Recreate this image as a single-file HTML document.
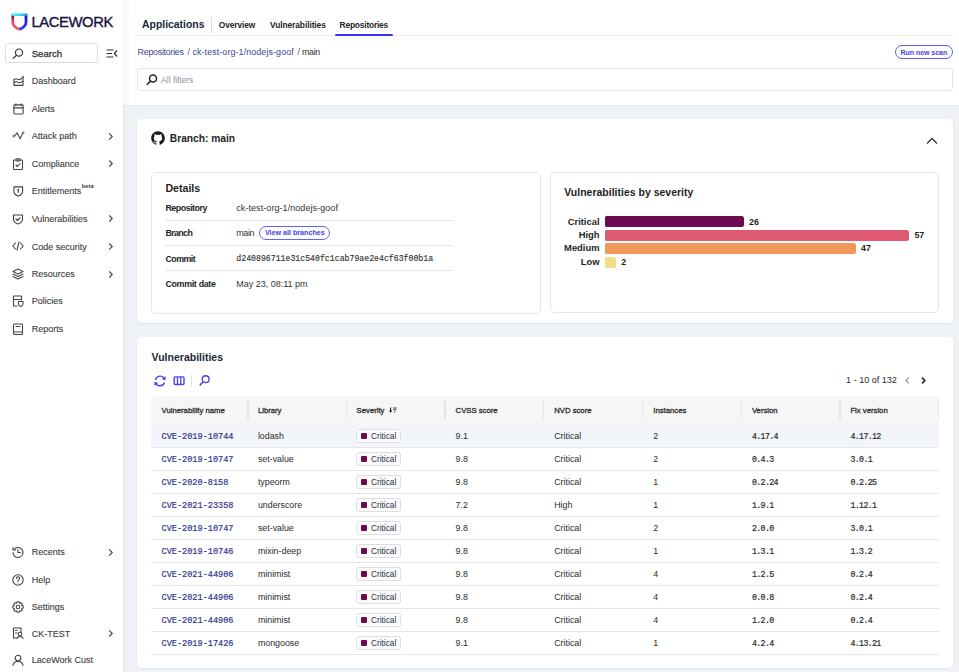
<!DOCTYPE html>
<html><head><meta charset="utf-8"><title>Lacework - Repositories</title>
<style>
html,body{margin:0;padding:0;width:959px;height:672px;overflow:hidden;background:#eef1f5;font-family:"Liberation Sans",sans-serif;}
.a{position:absolute;}
.t{position:absolute;white-space:nowrap;line-height:20px;}
svg{overflow:visible;}
</style></head><body>
<div class="a" style="left:0px;top:0px;width:959px;height:672px;background:#eef1f6;"></div>
<div class="a" style="left:0px;top:0px;width:959px;height:105px;background:#fff;"></div>
<div class="a" style="left:0px;top:0px;width:123px;height:672px;background:#fff;"></div>
<div class="a" style="left:123px;top:0px;width:8px;height:105px;background:linear-gradient(90deg,#f6f7f8,#fff);"></div>
<div class="a" style="left:122.5px;top:105px;width:1.0px;height:567px;background:#e6e9ee;"></div>
<div class="a" style="left:123.5px;top:105px;width:4.5px;height:567px;background:linear-gradient(90deg,rgba(0,0,0,0.025),rgba(0,0,0,0));"></div>
<div class="a" style="left:123px;top:105px;width:836px;height:2px;background:linear-gradient(180deg,rgba(0,0,0,0.035),rgba(0,0,0,0));"></div>
<svg class="a" style="left:10.5px;top:12.5px;" width="17.0" height="18.0" viewBox="0 0 17.0 18.0">
<defs>
<linearGradient id="gt" gradientUnits="userSpaceOnUse" x1="0" y1="0" x2="17" y2="0"><stop offset="0" stop-color="#3ff3ef"/><stop offset="0.6" stop-color="#37d6f4"/><stop offset="1" stop-color="#2f6cf2"/></linearGradient>
<linearGradient id="gl" gradientUnits="userSpaceOnUse" x1="0" y1="2" x2="0" y2="17"><stop offset="0" stop-color="#5a1838"/><stop offset="0.45" stop-color="#e84a66"/><stop offset="1" stop-color="#f5586a"/></linearGradient>
<linearGradient id="gr" gradientUnits="userSpaceOnUse" x1="0" y1="2" x2="0" y2="17"><stop offset="0" stop-color="#17148a"/><stop offset="0.5" stop-color="#2b2be6"/><stop offset="1" stop-color="#3535ff"/></linearGradient>
</defs>
<path d="M1.8 2 L1.8 9.5 Q1.9 13.6 8.4 16.4" fill="none" stroke="url(#gl)" stroke-width="2.8"/>
<path d="M15 2 L15 9.5 Q14.9 13.6 8.4 16.4" fill="none" stroke="url(#gr)" stroke-width="2.8"/>
<path d="M0.4 0.5 H16.4 V2.6 L15 3 H1.8 L0.4 2.6 Z" fill="url(#gt)"/>
</svg>
<div class="t" style="left:31.40px;top:12px;font-size:14.8px;color:#15113d;font-family:'Liberation Sans', sans-serif;letter-spacing:-0.399px;-webkit-text-stroke:0.35px #15113d;">LACEWORK</div>
<div class="a" style="left:5px;top:43px;width:93px;height:19.5px;border:1px solid #dcdde0;border-radius:2.5px;box-sizing:border-box;background:#fff;"></div>
<svg class="a" style="left:12px;top:48px;" width="12" height="11" viewBox="0 0 12 11"><circle cx="7" cy="4.6" r="3.6" fill="none" stroke="#3a3a3a" stroke-width="1.2"/><path d="M4.4 7.3 L1.2 10.4" stroke="#3a3a3a" stroke-width="1.3" stroke-linecap="round"/></svg>
<div class="t" style="left:31.70px;top:44px;font-size:9.6px;color:#2f2f2f;font-family:'Liberation Sans', sans-serif;-webkit-text-stroke:0.25px #2f2f2f;">Search</div>
<svg class="a" style="left:106px;top:49px;" width="12" height="9" viewBox="0 0 12 9"><path d="M0.5 1 H7.5 M0.5 4.5 H6 M0.5 8 H7.5" stroke="#333" stroke-width="1.2"/><path d="M11 1.5 L8.3 4.5 L11 7.5" fill="none" stroke="#333" stroke-width="1.2"/></svg>
<svg class="a" style="left:11.5px;top:75.0px;" width="12.0" height="12.0" viewBox="0 0 12.0 12.0"><path d="M2 4.6 V10.4 H11 V1.2" fill="none" stroke="#444" stroke-width="1.1" stroke-linecap="round" stroke-linejoin="round"/><path d="M2 4.6 Q3.8 3.2 5.8 4.3 Q8 5.4 11 2.2 M2 7.6 Q4 6.2 6 7.2 Q8.2 8.2 11 6.4" fill="none" stroke="#444" stroke-width="1.1" stroke-linecap="round" stroke-linejoin="round"/></svg>
<div class="t" style="left:31.70px;top:71px;font-size:9.0px;color:#404040;font-family:'Liberation Sans', sans-serif;-webkit-text-stroke:0.12px #404040;">Dashboard</div>
<svg class="a" style="left:11.5px;top:102.5px;" width="12.0" height="12.0" viewBox="0 0 12.0 12.0"><rect x="1.9" y="1.9" width="9.2" height="9.1" rx="0.9" fill="none" stroke="#444" stroke-width="1.1" stroke-linecap="round" stroke-linejoin="round"/><path d="M1.9 4.9 H11.1 M3.9 0.9 V2.4 M9.1 0.9 V2.4" fill="none" stroke="#444" stroke-width="1.1" stroke-linecap="round" stroke-linejoin="round"/></svg>
<div class="t" style="left:31.70px;top:99px;font-size:9.0px;color:#404040;font-family:'Liberation Sans', sans-serif;-webkit-text-stroke:0.12px #404040;">Alerts</div>
<svg class="a" style="left:11.5px;top:130.0px;" width="12.0" height="12.0" viewBox="0 0 12.0 12.0"><path d="M2.7 5.6 L5.1 2.9 L8.2 8.8 L10.5 3.4" fill="none" stroke="#444" stroke-width="1.1" stroke-linecap="round" stroke-linejoin="round"/><circle cx="1.8" cy="6.2" r="0.95" fill="#fff" stroke="#444" stroke-width="0.9"/><circle cx="11.2" cy="2.7" r="0.85" fill="#fff" stroke="#444" stroke-width="0.9"/></svg>
<div class="t" style="left:31.70px;top:126px;font-size:9.0px;color:#404040;font-family:'Liberation Sans', sans-serif;-webkit-text-stroke:0.12px #404040;">Attack path</div>
<svg class="a" style="left:107.5px;top:131.5px;" width="6.0" height="9.0" viewBox="0 0 6.0 9.0"><path d="M1.2 1.4 L4.2 4.5 L1.2 7.6" fill="none" stroke="#444" stroke-width="1.15"/></svg>
<svg class="a" style="left:11.5px;top:157.6px;" width="12.0" height="12.0" viewBox="0 0 12.0 12.0"><rect x="1.5" y="2" width="9" height="9.5" rx="0.8" fill="none" stroke="#444" stroke-width="1.1" stroke-linecap="round" stroke-linejoin="round"/><rect x="4" y="0.8" width="4" height="2.2" rx="0.5" fill="none" stroke="#444" stroke-width="1.1" stroke-linecap="round" stroke-linejoin="round"/><path d="M4 7 L5.5 8.5 L8 5.5" fill="none" stroke="#444" stroke-width="1.1" stroke-linecap="round" stroke-linejoin="round"/></svg>
<div class="t" style="left:31.70px;top:154px;font-size:9.0px;color:#404040;font-family:'Liberation Sans', sans-serif;-webkit-text-stroke:0.12px #404040;">Compliance</div>
<svg class="a" style="left:107.5px;top:159.1px;" width="6.0" height="9.0" viewBox="0 0 6.0 9.0"><path d="M1.2 1.4 L4.2 4.5 L1.2 7.6" fill="none" stroke="#444" stroke-width="1.15"/></svg>
<svg class="a" style="left:11.5px;top:185.1px;" width="12.0" height="12.0" viewBox="0 0 12.0 12.0"><path d="M1.9 1.9 H10.6 V6.2 Q10.6 9.4 6.25 11.1 Q1.9 9.4 1.9 6.2 Z" fill="none" stroke="#444" stroke-width="1.1" stroke-linecap="round" stroke-linejoin="round"/><circle cx="6.25" cy="4.7" r="0.9" fill="#444"/><path d="M6.25 5 V7.8" stroke="#444" stroke-width="1.1"/></svg>
<div class="t" style="left:31.70px;top:181px;font-size:9.0px;color:#404040;font-family:'Liberation Sans', sans-serif;-webkit-text-stroke:0.12px #404040;">Entitlements</div>
<svg class="a" style="left:11.5px;top:212.6px;" width="12.0" height="12.0" viewBox="0 0 12.0 12.0"><path d="M1.5 2 H10.5 V6 Q10.5 9.5 6 11 Q1.5 9.5 1.5 6 Z" fill="none" stroke="#444" stroke-width="1.1" stroke-linecap="round" stroke-linejoin="round"/><path d="M4 6 L5.5 7.5 L8 5" fill="none" stroke="#444" stroke-width="1.1" stroke-linecap="round" stroke-linejoin="round"/></svg>
<div class="t" style="left:31.70px;top:209px;font-size:9.0px;color:#404040;font-family:'Liberation Sans', sans-serif;-webkit-text-stroke:0.12px #404040;">Vulnerabilities</div>
<svg class="a" style="left:107.5px;top:214.1px;" width="6.0" height="9.0" viewBox="0 0 6.0 9.0"><path d="M1.2 1.4 L4.2 4.5 L1.2 7.6" fill="none" stroke="#444" stroke-width="1.15"/></svg>
<svg class="a" style="left:11.5px;top:240.4px;" width="12.0" height="12.0" viewBox="0 0 12.0 12.0"><path d="M3.5 3 L0.8 6 L3.5 9 M8.5 3 L11.2 6 L8.5 9 M7 2 L5 10" fill="none" stroke="#444" stroke-width="1.1" stroke-linecap="round" stroke-linejoin="round"/></svg>
<div class="t" style="left:31.70px;top:237px;font-size:9.0px;color:#404040;font-family:'Liberation Sans', sans-serif;-webkit-text-stroke:0.12px #404040;">Code security</div>
<svg class="a" style="left:107.5px;top:241.9px;" width="6.0" height="9.0" viewBox="0 0 6.0 9.0"><path d="M1.2 1.4 L4.2 4.5 L1.2 7.6" fill="none" stroke="#444" stroke-width="1.15"/></svg>
<svg class="a" style="left:11.5px;top:268.0px;" width="12.0" height="12.0" viewBox="0 0 12.0 12.0"><path d="M6 1 L11 3.5 L6 6 L1 3.5 Z M1 6 L6 8.5 L11 6 M1 8.5 L6 11 L11 8.5" fill="none" stroke="#444" stroke-width="1.1" stroke-linecap="round" stroke-linejoin="round"/></svg>
<div class="t" style="left:31.70px;top:264px;font-size:9.0px;color:#404040;font-family:'Liberation Sans', sans-serif;-webkit-text-stroke:0.12px #404040;">Resources</div>
<svg class="a" style="left:107.5px;top:269.5px;" width="6.0" height="9.0" viewBox="0 0 6.0 9.0"><path d="M1.2 1.4 L4.2 4.5 L1.2 7.6" fill="none" stroke="#444" stroke-width="1.15"/></svg>
<svg class="a" style="left:11.5px;top:295.2px;" width="12.0" height="12.0" viewBox="0 0 12.0 12.0"><path d="M9.5 5 V1 H1.5 V11 H5 M1.5 4.5 H9.5" fill="none" stroke="#444" stroke-width="1.1" stroke-linecap="round" stroke-linejoin="round"/><path d="M6.5 6.5 H11 V9 Q11 10.8 8.7 11.5 Q6.5 10.8 6.5 9 Z" fill="none" stroke="#444" stroke-width="1.1" stroke-linecap="round" stroke-linejoin="round"/></svg>
<div class="t" style="left:31.70px;top:291px;font-size:9.0px;color:#404040;font-family:'Liberation Sans', sans-serif;-webkit-text-stroke:0.12px #404040;">Policies</div>
<svg class="a" style="left:11.5px;top:323.0px;" width="12.0" height="12.0" viewBox="0 0 12.0 12.0"><rect x="1.5" y="1" width="9" height="10.5" rx="1" fill="none" stroke="#444" stroke-width="1.1" stroke-linecap="round" stroke-linejoin="round"/><path d="M1.5 9 H10.5 M4 3.5 H8" fill="none" stroke="#444" stroke-width="1.1" stroke-linecap="round" stroke-linejoin="round"/></svg>
<div class="t" style="left:31.70px;top:319px;font-size:9.0px;color:#404040;font-family:'Liberation Sans', sans-serif;-webkit-text-stroke:0.12px #404040;">Reports</div>
<svg class="a" style="left:11.5px;top:546.2px;" width="12.0" height="12.0" viewBox="0 0 12.0 12.0"><path d="M2 3.5 A5 5 0 1 1 1 6.5" fill="none" stroke="#444" stroke-width="1.1" stroke-linecap="round" stroke-linejoin="round"/><path d="M1 1.5 V4 H3.5 M6 3.5 V6.5 H8.5" fill="none" stroke="#444" stroke-width="1.1" stroke-linecap="round" stroke-linejoin="round"/></svg>
<div class="t" style="left:31.70px;top:542px;font-size:9.0px;color:#404040;font-family:'Liberation Sans', sans-serif;-webkit-text-stroke:0.12px #404040;">Recents</div>
<svg class="a" style="left:107.5px;top:547.7px;" width="6.0" height="9.0" viewBox="0 0 6.0 9.0"><path d="M1.2 1.4 L4.2 4.5 L1.2 7.6" fill="none" stroke="#444" stroke-width="1.15"/></svg>
<svg class="a" style="left:11.5px;top:573.9px;" width="12.0" height="12.0" viewBox="0 0 12.0 12.0"><circle cx="6" cy="6" r="5.2" fill="none" stroke="#444" stroke-width="1.1" stroke-linecap="round" stroke-linejoin="round"/><path d="M4.3 4.6 Q4.5 2.8 6 2.8 Q7.8 2.9 7.7 4.5 Q7.6 5.6 6 6.3 V7.3" fill="none" stroke="#444" stroke-width="1.1" stroke-linecap="round" stroke-linejoin="round"/><circle cx="6" cy="9" r="0.6" fill="#444"/></svg>
<div class="t" style="left:31.70px;top:570px;font-size:9.0px;color:#404040;font-family:'Liberation Sans', sans-serif;-webkit-text-stroke:0.12px #404040;">Help</div>
<svg class="a" style="left:11.5px;top:601.2px;" width="12.0" height="12.0" viewBox="0 0 12.0 12.0"><circle cx="6" cy="6" r="1.8" fill="none" stroke="#444" stroke-width="1.1" stroke-linecap="round" stroke-linejoin="round"/><path d="M5 0.8 H7 L7.4 2.3 L8.7 1.6 L10.2 3 L9.6 4.4 L11.2 5 V7 L9.7 7.5 L10.3 8.9 L8.9 10.3 L7.5 9.7 L7 11.2 H5 L4.5 9.7 L3.1 10.3 L1.7 8.9 L2.3 7.5 L0.8 7 V5 L2.3 4.5 L1.7 3.1 L3.1 1.7 L4.5 2.3 Z" fill="none" stroke="#444" stroke-width="1.1" stroke-linecap="round" stroke-linejoin="round"/></svg>
<div class="t" style="left:31.70px;top:597px;font-size:9.0px;color:#404040;font-family:'Liberation Sans', sans-serif;-webkit-text-stroke:0.12px #404040;">Settings</div>
<svg class="a" style="left:11.5px;top:627.3px;" width="12.0" height="12.0" viewBox="0 0 12.0 12.0"><path d="M9 4.5 V1 H1.5 V11 H4.5 M3.5 3.5 H5 M3.5 6 H5" fill="none" stroke="#444" stroke-width="1.1" stroke-linecap="round" stroke-linejoin="round"/><circle cx="8" cy="7" r="1.8" fill="none" stroke="#444" stroke-width="1.1" stroke-linecap="round" stroke-linejoin="round"/><path d="M5 11.5 Q5.5 9.5 8 9.5 Q10.5 9.5 11 11.5" fill="none" stroke="#444" stroke-width="1.1" stroke-linecap="round" stroke-linejoin="round"/></svg>
<div class="t" style="left:31.70px;top:624px;font-size:9.0px;color:#404040;font-family:'Liberation Sans', sans-serif;-webkit-text-stroke:0.12px #404040;">CK-TEST</div>
<svg class="a" style="left:107.5px;top:628.8px;" width="6.0" height="9.0" viewBox="0 0 6.0 9.0"><path d="M1.2 1.4 L4.2 4.5 L1.2 7.6" fill="none" stroke="#444" stroke-width="1.15"/></svg>
<svg class="a" style="left:11.5px;top:653.9px;" width="12.0" height="12.0" viewBox="0 0 12.0 12.0"><circle cx="6" cy="4" r="2.8" fill="none" stroke="#444" stroke-width="1.1" stroke-linecap="round" stroke-linejoin="round"/><path d="M1 11.5 Q1.5 7.5 6 7.5 Q10.5 7.5 11 11.5" fill="none" stroke="#444" stroke-width="1.1" stroke-linecap="round" stroke-linejoin="round"/></svg>
<div class="t" style="left:31.70px;top:650px;font-size:9.0px;color:#404040;font-family:'Liberation Sans', sans-serif;-webkit-text-stroke:0.12px #404040;">LaceWork Cust</div>
<div class="t" style="left:81.80px;top:176px;font-size:5.8px;color:#3c3c3c;font-family:'Liberation Sans', sans-serif;font-weight:bold;">beta</div>
<div class="t" style="left:142.10px;top:15px;font-size:10.4px;color:#1b2937;font-family:'Liberation Sans', sans-serif;font-weight:bold;">Applications</div>
<div class="a" style="left:211px;top:17px;width:1px;height:15.5px;background:#dcdcdc;"></div>
<div class="t" style="left:218.80px;top:15px;font-size:8.4px;color:#262626;font-family:'Liberation Sans', sans-serif;font-weight:bold;letter-spacing:-0.111px;">Overview</div>
<div class="t" style="left:270.00px;top:15px;font-size:8.4px;color:#262626;font-family:'Liberation Sans', sans-serif;font-weight:bold;letter-spacing:-0.079px;">Vulnerabilities</div>
<div class="t" style="left:339.60px;top:15px;font-size:8.4px;color:#262626;font-family:'Liberation Sans', sans-serif;font-weight:bold;letter-spacing:-0.189px;">Repositories</div>
<div class="a" style="left:137px;top:35px;width:816px;height:1px;background:#eceef0;"></div>
<div class="a" style="left:335px;top:34px;width:58.39999999999998px;height:2px;background:#3636f2;border-radius:1px;"></div>
<div class="t" style="left:137.60px;top:42px;font-size:8.9px;color:#3e3f96;font-family:'Liberation Sans', sans-serif;letter-spacing:-0.269px;">Repositories</div>
<div class="t" style="left:187.60px;top:42px;font-size:8.9px;color:#555;font-family:'Liberation Sans', sans-serif;">/</div>
<div class="t" style="left:192.40px;top:42px;font-size:8.9px;color:#3e3f96;font-family:'Liberation Sans', sans-serif;letter-spacing:0.111px;">ck-test-org-1/nodejs-goof</div>
<div class="t" style="left:297.50px;top:42px;font-size:8.9px;color:#555;font-family:'Liberation Sans', sans-serif;">/</div>
<div class="t" style="left:301.90px;top:42px;font-size:8.9px;color:#333;font-family:'Liberation Sans', sans-serif;letter-spacing:-0.297px;">main</div>
<div class="a" style="left:895px;top:45px;width:58px;height:14px;border:1px solid #5b5cf2;border-radius:8px;box-sizing:border-box;"></div>
<div class="t" style="left:900.50px;top:43px;font-size:7.0px;color:#3f3fe6;font-family:'Liberation Sans', sans-serif;font-weight:bold;letter-spacing:-0.034px;">Run new scan</div>
<div class="a" style="left:137px;top:68px;width:816px;height:23px;border:1px solid #e3e5e8;border-radius:3px;box-sizing:border-box;background:#fff;"></div>
<svg class="a" style="left:146px;top:74px;" width="12" height="11" viewBox="0 0 12 11"><circle cx="7" cy="4.5" r="3.5" fill="none" stroke="#222" stroke-width="1.5"/><path d="M4.4 7.2 L1.3 10.3" stroke="#222" stroke-width="1.6" stroke-linecap="round"/></svg>
<div class="t" style="left:161.10px;top:70px;font-size:8.54px;color:#8c949c;font-family:'Liberation Sans', sans-serif;">All filters</div>
<div class="a" style="left:137px;top:118.8px;width:815.7px;height:204.0px;background:#fff;border-radius:5px;box-shadow:0 1px 2px rgba(20,30,50,0.06);"></div>
<svg class="a" style="left:151px;top:130.8px;" width="14" height="14.0" viewBox="0 0 15 15"><path fill="#1a1a1a" d="M7.5 0.3 C3.4 0.3 0.2 3.6 0.2 7.7 C0.2 11 2.3 13.7 5.2 14.7 C5.6 14.8 5.7 14.6 5.7 14.4 L5.7 13.1 C3.7 13.6 3.2 12.2 3.2 12.2 C2.9 11.3 2.4 11.1 2.4 11.1 C1.7 10.6 2.4 10.7 2.4 10.7 C3.2 10.7 3.6 11.5 3.6 11.5 C4.2 12.7 5.4 12.3 5.8 12.1 C5.9 11.6 6.1 11.3 6.3 11.1 C4.7 10.9 3 10.3 3 7.5 C3 6.7 3.3 6.1 3.8 5.6 C3.7 5.4 3.4 4.6 3.9 3.6 C3.9 3.6 4.5 3.4 5.8 4.3 C6.3 4.1 6.9 4.1 7.5 4.1 C8.1 4.1 8.7 4.1 9.2 4.3 C10.5 3.4 11.1 3.6 11.1 3.6 C11.6 4.6 11.3 5.4 11.2 5.6 C11.7 6.1 12 6.7 12 7.5 C12 10.3 10.3 10.9 8.7 11.1 C9 11.3 9.2 11.8 9.2 12.4 L9.2 14.4 C9.2 14.6 9.3 14.8 9.8 14.7 C12.7 13.7 14.8 11 14.8 7.7 C14.8 3.6 11.6 0.3 7.5 0.3 Z"/></svg>
<div class="t" style="left:169.80px;top:129px;font-size:10.22px;color:#1f1f1f;font-family:'Liberation Sans', sans-serif;font-weight:bold;">Branch: main</div>
<svg class="a" style="left:926px;top:137px;" width="12" height="8" viewBox="0 0 12 8"><path d="M1 6.5 L6 1.5 L11 6.5" fill="none" stroke="#333" stroke-width="1.3"/></svg>
<div class="a" style="left:151px;top:172px;width:389.5px;height:142px;border:1px solid #e4e6e9;border-radius:5px;box-sizing:border-box;"></div>
<div class="t" style="left:165.40px;top:178px;font-size:10.64px;color:#1f1f1f;font-family:'Liberation Sans', sans-serif;font-weight:bold;">Details</div>
<div class="t" style="left:165.40px;top:198px;font-size:8.9px;color:#1f1f1f;font-family:'Liberation Sans', sans-serif;font-weight:bold;letter-spacing:-0.476px;">Repository</div>
<div class="t" style="left:165.40px;top:223px;font-size:8.9px;color:#1f1f1f;font-family:'Liberation Sans', sans-serif;font-weight:bold;letter-spacing:-0.632px;">Branch</div>
<div class="t" style="left:165.40px;top:249px;font-size:8.9px;color:#1f1f1f;font-family:'Liberation Sans', sans-serif;font-weight:bold;letter-spacing:-0.546px;">Commit</div>
<div class="t" style="left:165.40px;top:274px;font-size:8.9px;color:#1f1f1f;font-family:'Liberation Sans', sans-serif;font-weight:bold;letter-spacing:-0.321px;">Commit date</div>
<div class="a" style="left:165.4px;top:219.8px;width:287.4px;height:1.0px;background:#e7e8ea;"></div>
<div class="a" style="left:165.4px;top:244.9px;width:287.4px;height:1.0px;background:#e7e8ea;"></div>
<div class="a" style="left:165.4px;top:269.9px;width:287.4px;height:1.0px;background:#e7e8ea;"></div>
<div class="t" style="left:236.30px;top:198px;font-size:9.0px;color:#333;font-family:'Liberation Sans', sans-serif;letter-spacing:0.064px;">ck-test-org-1/nodejs-goof</div>
<div class="t" style="left:236.30px;top:223px;font-size:9.0px;color:#333;font-family:'Liberation Sans', sans-serif;letter-spacing:-0.436px;">main</div>
<div class="a" style="left:259.3px;top:226.2px;width:71.0px;height:13.600000000000023px;border:1px solid #6264f2;border-radius:7px;box-sizing:border-box;"></div>
<div class="t" style="left:264.90px;top:223px;font-size:7.15px;color:#4142e4;font-family:'Liberation Sans', sans-serif;font-weight:bold;letter-spacing:0.001px;">View all branches</div>
<div class="t" style="left:236.30px;top:249px;font-size:8.21px;color:#333;font-family:'Liberation Mono', monospace;letter-spacing:-0.002px;-webkit-text-stroke:0.15px #333;">d240896711e31c540fc1cab79ae2e4cf63f00b1a</div>
<div class="t" style="left:236.30px;top:274px;font-size:9.0px;color:#333;font-family:'Liberation Sans', sans-serif;letter-spacing:-0.005px;">May 23, 08:11 pm</div>
<div class="a" style="left:549.6px;top:171.5px;width:389.0px;height:141.5px;border:1px solid #e4e6e9;border-radius:5px;box-sizing:border-box;"></div>
<div class="t" style="left:564.20px;top:182px;font-size:10.51px;color:#1f1f1f;font-family:'Liberation Sans', sans-serif;font-weight:bold;">Vulnerabilities by severity</div>
<div class="a" style="left:605px;top:216.1px;width:138.5999999999999px;height:11.0px;background:#6c0a52;border-radius:1.5px 2.5px 2.5px 1.5px;"></div>
<div class="t" style="left:567.73px;top:212px;font-size:9.4px;color:#1f1f1f;font-family:'Liberation Sans', sans-serif;font-weight:bold;">Critical</div>
<div class="t" style="left:749.10px;top:212px;font-size:8.9px;color:#1f1f1f;font-family:'Liberation Sans', sans-serif;font-weight:bold;">26</div>
<div class="a" style="left:605px;top:229.6px;width:303.9px;height:11.0px;background:#e05a74;border-radius:1.5px 2.5px 2.5px 1.5px;"></div>
<div class="t" style="left:578.71px;top:225px;font-size:9.4px;color:#1f1f1f;font-family:'Liberation Sans', sans-serif;font-weight:bold;">High</div>
<div class="t" style="left:914.40px;top:225px;font-size:8.9px;color:#1f1f1f;font-family:'Liberation Sans', sans-serif;font-weight:bold;">57</div>
<div class="a" style="left:605px;top:243.2px;width:250.5999999999999px;height:11.0px;background:#f2975c;border-radius:1.5px 2.5px 2.5px 1.5px;"></div>
<div class="t" style="left:564.09px;top:238px;font-size:9.4px;color:#1f1f1f;font-family:'Liberation Sans', sans-serif;font-weight:bold;">Medium</div>
<div class="t" style="left:861.10px;top:238px;font-size:8.9px;color:#1f1f1f;font-family:'Liberation Sans', sans-serif;font-weight:bold;">47</div>
<div class="a" style="left:605px;top:256.8px;width:10.699999999999932px;height:11.0px;background:#f3de86;border-radius:1.5px 2.5px 2.5px 1.5px;"></div>
<div class="t" style="left:580.78px;top:252px;font-size:9.4px;color:#1f1f1f;font-family:'Liberation Sans', sans-serif;font-weight:bold;">Low</div>
<div class="t" style="left:621.20px;top:252px;font-size:8.9px;color:#1f1f1f;font-family:'Liberation Sans', sans-serif;font-weight:bold;">2</div>
<div class="a" style="left:137px;top:336.8px;width:815.7px;height:331.40000000000003px;background:#fff;border-radius:5px;box-shadow:0 1px 2px rgba(20,30,50,0.06);"></div>
<div class="t" style="left:151.60px;top:347px;font-size:10.5px;color:#1b2937;font-family:'Liberation Sans', sans-serif;font-weight:bold;">Vulnerabilities</div>
<svg class="a" style="left:154px;top:374.5px;" width="13" height="12.5" viewBox="0 0 13 12.5"><path d="M10.6 3.6 A5 5 0 0 0 1.4 5 M1.4 8 A5 5 0 0 0 10.6 7.4" fill="none" stroke="#4646ee" stroke-width="1.4"/><path d="M11.8 1.2 L11.4 5.2 L7.6 4.2 Z M0.2 10.8 L0.6 6.8 L4.4 7.8 Z" fill="#4646ee"/></svg>
<svg class="a" style="left:172.5px;top:375.8px;" width="12.5" height="9.199999999999989" viewBox="0 0 12.5 9.199999999999989"><rect x="1.2" y="0.9" width="9.8" height="7.6" rx="0.9" fill="none" stroke="#4646ee" stroke-width="1.4"/><path d="M4.5 0.9 V8.5 M7.8 0.9 V8.5" stroke="#4646ee" stroke-width="1.3"/></svg>
<div class="a" style="left:191px;top:375px;width:1px;height:11.5px;background:#e2e3e6;"></div>
<svg class="a" style="left:199px;top:375px;" width="12" height="11" viewBox="0 0 12 11"><circle cx="6.7" cy="4.2" r="3.4" fill="none" stroke="#4646ee" stroke-width="1.4"/><path d="M4.3 6.8 L1.2 9.9" stroke="#4646ee" stroke-width="1.5" stroke-linecap="round"/></svg>
<div class="t" style="left:846.10px;top:370px;font-size:9.05px;color:#2a2a2a;font-family:'Liberation Sans', sans-serif;">1 - 10 of 132</div>
<svg class="a" style="left:904px;top:376px;" width="7" height="9" viewBox="0 0 7 9"><path d="M4.9 1.6 L2 4.5 L4.9 7.4" fill="none" stroke="#8a9199" stroke-width="1.1"/></svg>
<svg class="a" style="left:920px;top:376px;" width="7" height="9" viewBox="0 0 7 9"><path d="M2 1.6 L4.9 4.5 L2 7.4" fill="none" stroke="#222" stroke-width="1.5"/></svg>
<div class="a" style="left:151px;top:396.2px;width:788px;height:28.80000000000001px;background:#f5f6f6;border-radius:4.5px 4.5px 0 0;"></div>
<div class="a" style="left:247.1px;top:401px;width:1.5px;height:18px;background:#e4e5e7;"></div>
<div class="a" style="left:345.9px;top:401px;width:1.5px;height:18px;background:#e4e5e7;"></div>
<div class="a" style="left:444.2px;top:401px;width:1.5px;height:18px;background:#e4e5e7;"></div>
<div class="a" style="left:542.7px;top:401px;width:1.5px;height:18px;background:#e4e5e7;"></div>
<div class="a" style="left:641.9px;top:401px;width:1.5px;height:18px;background:#e4e5e7;"></div>
<div class="a" style="left:740.8px;top:401px;width:1.5px;height:18px;background:#e4e5e7;"></div>
<div class="a" style="left:839.3px;top:401px;width:1.5px;height:18px;background:#e4e5e7;"></div>
<div class="a" style="left:937.5px;top:401px;width:1.5px;height:18px;background:#e4e5e7;"></div>
<div class="t" style="left:161.60px;top:401px;font-size:7.73px;color:#2e2e2e;font-family:'Liberation Sans', sans-serif;-webkit-text-stroke:0.3px #2e2e2e;">Vulnerability name</div>
<div class="t" style="left:257.90px;top:401px;font-size:7.73px;color:#2e2e2e;font-family:'Liberation Sans', sans-serif;-webkit-text-stroke:0.3px #2e2e2e;">Library</div>
<div class="t" style="left:356.60px;top:401px;font-size:7.73px;color:#2e2e2e;font-family:'Liberation Sans', sans-serif;-webkit-text-stroke:0.3px #2e2e2e;">Severity</div>
<div class="t" style="left:455.60px;top:401px;font-size:7.73px;color:#2e2e2e;font-family:'Liberation Sans', sans-serif;-webkit-text-stroke:0.3px #2e2e2e;">CVSS score</div>
<div class="t" style="left:554.20px;top:401px;font-size:7.73px;color:#2e2e2e;font-family:'Liberation Sans', sans-serif;-webkit-text-stroke:0.3px #2e2e2e;">NVD score</div>
<div class="t" style="left:653.30px;top:401px;font-size:7.73px;color:#2e2e2e;font-family:'Liberation Sans', sans-serif;-webkit-text-stroke:0.3px #2e2e2e;">Instances</div>
<div class="t" style="left:751.90px;top:401px;font-size:7.73px;color:#2e2e2e;font-family:'Liberation Sans', sans-serif;-webkit-text-stroke:0.3px #2e2e2e;">Version</div>
<div class="t" style="left:850.40px;top:401px;font-size:7.73px;color:#2e2e2e;font-family:'Liberation Sans', sans-serif;-webkit-text-stroke:0.3px #2e2e2e;">Fix version</div>
<svg class="a" style="left:388px;top:406px;" width="10" height="8" viewBox="0 0 10 8"><path d="M2.6 1.6 V5.5" stroke="#222" stroke-width="1.1"/><path d="M0.9 4.6 H4.3 L2.6 6.8 Z" fill="#222"/><path d="M5 2 H9 M5.4 3.5 H8.3 M5.8 5 H7.6 M6.2 6.4 H7" stroke="#555" stroke-width="1"/></svg>
<div class="a" style="left:151px;top:425px;width:788px;height:22px;background:#f2f5fa;"></div>
<div class="a" style="left:151px;top:447px;width:788px;height:1px;background:#e5e6e7;"></div>
<div class="t" style="left:161.60px;top:427px;font-size:8.56px;color:#32378f;font-family:'Liberation Mono', monospace;-webkit-text-stroke:0.2px #32378f;">CVE-2019-10744</div>
<div class="t" style="left:257.90px;top:426px;font-size:8.85px;color:#2b2b2b;font-family:'Liberation Sans', sans-serif;">lodash</div>
<div class="a" style="left:356.2px;top:429.40000000000003px;width:45.19999999999999px;height:13.199999999999989px;border:1px solid #dcdee1;border-radius:2.5px;background:#fbfbfc;box-sizing:border-box;"></div>
<div class="a" style="left:361px;top:433.0px;width:6px;height:6.0px;background:#6c0a52;border-radius:1px;"></div>
<div class="t" style="left:371.00px;top:427px;font-size:8.28px;color:#26323d;font-family:'Liberation Sans', sans-serif;">Critical</div>
<div class="t" style="left:455.60px;top:426px;font-size:8.85px;color:#2b2b2b;font-family:'Liberation Sans', sans-serif;">9.1</div>
<div class="t" style="left:554.20px;top:426px;font-size:8.85px;color:#2b2b2b;font-family:'Liberation Sans', sans-serif;">Critical</div>
<div class="t" style="left:653.30px;top:426px;font-size:8.85px;color:#2b2b2b;font-family:'Liberation Sans', sans-serif;">2</div>
<div class="t" style="left:751.90px;top:427px;font-size:8.3px;color:#2b2b2b;font-family:'Liberation Mono', monospace;letter-spacing:-0.650px;-webkit-text-stroke:0.2px #2b2b2b;">4.17.4</div>
<div class="t" style="left:850.40px;top:427px;font-size:8.3px;color:#2b2b2b;font-family:'Liberation Mono', monospace;letter-spacing:-0.650px;-webkit-text-stroke:0.2px #2b2b2b;">4.17.12</div>
<div class="a" style="left:151px;top:470px;width:788px;height:1px;background:#e5e6e7;"></div>
<div class="t" style="left:161.60px;top:450px;font-size:8.56px;color:#32378f;font-family:'Liberation Mono', monospace;-webkit-text-stroke:0.2px #32378f;">CVE-2019-10747</div>
<div class="t" style="left:257.90px;top:449px;font-size:8.85px;color:#2b2b2b;font-family:'Liberation Sans', sans-serif;">set-value</div>
<div class="a" style="left:356.2px;top:452.40000000000003px;width:45.19999999999999px;height:13.199999999999989px;border:1px solid #dcdee1;border-radius:2.5px;background:#fbfbfc;box-sizing:border-box;"></div>
<div class="a" style="left:361px;top:456.0px;width:6px;height:6.0px;background:#6c0a52;border-radius:1px;"></div>
<div class="t" style="left:371.00px;top:450px;font-size:8.28px;color:#26323d;font-family:'Liberation Sans', sans-serif;">Critical</div>
<div class="t" style="left:455.60px;top:449px;font-size:8.85px;color:#2b2b2b;font-family:'Liberation Sans', sans-serif;">9.8</div>
<div class="t" style="left:554.20px;top:449px;font-size:8.85px;color:#2b2b2b;font-family:'Liberation Sans', sans-serif;">Critical</div>
<div class="t" style="left:653.30px;top:449px;font-size:8.85px;color:#2b2b2b;font-family:'Liberation Sans', sans-serif;">2</div>
<div class="t" style="left:751.90px;top:450px;font-size:8.3px;color:#2b2b2b;font-family:'Liberation Mono', monospace;letter-spacing:-0.650px;-webkit-text-stroke:0.2px #2b2b2b;">0.4.3</div>
<div class="t" style="left:850.40px;top:450px;font-size:8.3px;color:#2b2b2b;font-family:'Liberation Mono', monospace;letter-spacing:-0.650px;-webkit-text-stroke:0.2px #2b2b2b;">3.0.1</div>
<div class="a" style="left:151px;top:493px;width:788px;height:1px;background:#e5e6e7;"></div>
<div class="t" style="left:161.60px;top:473px;font-size:8.56px;color:#32378f;font-family:'Liberation Mono', monospace;-webkit-text-stroke:0.2px #32378f;">CVE-2020-8158</div>
<div class="t" style="left:257.90px;top:472px;font-size:8.85px;color:#2b2b2b;font-family:'Liberation Sans', sans-serif;">typeorm</div>
<div class="a" style="left:356.2px;top:475.40000000000003px;width:45.19999999999999px;height:13.199999999999989px;border:1px solid #dcdee1;border-radius:2.5px;background:#fbfbfc;box-sizing:border-box;"></div>
<div class="a" style="left:361px;top:479.0px;width:6px;height:6.0px;background:#6c0a52;border-radius:1px;"></div>
<div class="t" style="left:371.00px;top:473px;font-size:8.28px;color:#26323d;font-family:'Liberation Sans', sans-serif;">Critical</div>
<div class="t" style="left:455.60px;top:472px;font-size:8.85px;color:#2b2b2b;font-family:'Liberation Sans', sans-serif;">9.8</div>
<div class="t" style="left:554.20px;top:472px;font-size:8.85px;color:#2b2b2b;font-family:'Liberation Sans', sans-serif;">Critical</div>
<div class="t" style="left:653.30px;top:472px;font-size:8.85px;color:#2b2b2b;font-family:'Liberation Sans', sans-serif;">1</div>
<div class="t" style="left:751.90px;top:473px;font-size:8.3px;color:#2b2b2b;font-family:'Liberation Mono', monospace;letter-spacing:-0.650px;-webkit-text-stroke:0.2px #2b2b2b;">0.2.24</div>
<div class="t" style="left:850.40px;top:473px;font-size:8.3px;color:#2b2b2b;font-family:'Liberation Mono', monospace;letter-spacing:-0.650px;-webkit-text-stroke:0.2px #2b2b2b;">0.2.25</div>
<div class="a" style="left:151px;top:516px;width:788px;height:1px;background:#e5e6e7;"></div>
<div class="t" style="left:161.60px;top:496px;font-size:8.56px;color:#32378f;font-family:'Liberation Mono', monospace;-webkit-text-stroke:0.2px #32378f;">CVE-2021-23358</div>
<div class="t" style="left:257.90px;top:495px;font-size:8.85px;color:#2b2b2b;font-family:'Liberation Sans', sans-serif;">underscore</div>
<div class="a" style="left:356.2px;top:498.40000000000003px;width:45.19999999999999px;height:13.199999999999989px;border:1px solid #dcdee1;border-radius:2.5px;background:#fbfbfc;box-sizing:border-box;"></div>
<div class="a" style="left:361px;top:502.0px;width:6px;height:6.0px;background:#6c0a52;border-radius:1px;"></div>
<div class="t" style="left:371.00px;top:496px;font-size:8.28px;color:#26323d;font-family:'Liberation Sans', sans-serif;">Critical</div>
<div class="t" style="left:455.60px;top:495px;font-size:8.85px;color:#2b2b2b;font-family:'Liberation Sans', sans-serif;">7.2</div>
<div class="t" style="left:554.20px;top:495px;font-size:8.85px;color:#2b2b2b;font-family:'Liberation Sans', sans-serif;">High</div>
<div class="t" style="left:653.30px;top:495px;font-size:8.85px;color:#2b2b2b;font-family:'Liberation Sans', sans-serif;">1</div>
<div class="t" style="left:751.90px;top:496px;font-size:8.3px;color:#2b2b2b;font-family:'Liberation Mono', monospace;letter-spacing:-0.650px;-webkit-text-stroke:0.2px #2b2b2b;">1.9.1</div>
<div class="t" style="left:850.40px;top:496px;font-size:8.3px;color:#2b2b2b;font-family:'Liberation Mono', monospace;letter-spacing:-0.650px;-webkit-text-stroke:0.2px #2b2b2b;">1.12.1</div>
<div class="a" style="left:151px;top:539px;width:788px;height:1px;background:#e5e6e7;"></div>
<div class="t" style="left:161.60px;top:519px;font-size:8.56px;color:#32378f;font-family:'Liberation Mono', monospace;-webkit-text-stroke:0.2px #32378f;">CVE-2019-10747</div>
<div class="t" style="left:257.90px;top:518px;font-size:8.85px;color:#2b2b2b;font-family:'Liberation Sans', sans-serif;">set-value</div>
<div class="a" style="left:356.2px;top:521.4px;width:45.19999999999999px;height:13.200000000000045px;border:1px solid #dcdee1;border-radius:2.5px;background:#fbfbfc;box-sizing:border-box;"></div>
<div class="a" style="left:361px;top:525.0px;width:6px;height:6.0px;background:#6c0a52;border-radius:1px;"></div>
<div class="t" style="left:371.00px;top:519px;font-size:8.28px;color:#26323d;font-family:'Liberation Sans', sans-serif;">Critical</div>
<div class="t" style="left:455.60px;top:518px;font-size:8.85px;color:#2b2b2b;font-family:'Liberation Sans', sans-serif;">9.8</div>
<div class="t" style="left:554.20px;top:518px;font-size:8.85px;color:#2b2b2b;font-family:'Liberation Sans', sans-serif;">Critical</div>
<div class="t" style="left:653.30px;top:518px;font-size:8.85px;color:#2b2b2b;font-family:'Liberation Sans', sans-serif;">2</div>
<div class="t" style="left:751.90px;top:519px;font-size:8.3px;color:#2b2b2b;font-family:'Liberation Mono', monospace;letter-spacing:-0.650px;-webkit-text-stroke:0.2px #2b2b2b;">2.0.0</div>
<div class="t" style="left:850.40px;top:519px;font-size:8.3px;color:#2b2b2b;font-family:'Liberation Mono', monospace;letter-spacing:-0.650px;-webkit-text-stroke:0.2px #2b2b2b;">3.0.1</div>
<div class="a" style="left:151px;top:562px;width:788px;height:1px;background:#e5e6e7;"></div>
<div class="t" style="left:161.60px;top:542px;font-size:8.56px;color:#32378f;font-family:'Liberation Mono', monospace;-webkit-text-stroke:0.2px #32378f;">CVE-2019-10746</div>
<div class="t" style="left:257.90px;top:541px;font-size:8.85px;color:#2b2b2b;font-family:'Liberation Sans', sans-serif;">mixin-deep</div>
<div class="a" style="left:356.2px;top:544.4px;width:45.19999999999999px;height:13.200000000000045px;border:1px solid #dcdee1;border-radius:2.5px;background:#fbfbfc;box-sizing:border-box;"></div>
<div class="a" style="left:361px;top:548.0px;width:6px;height:6.0px;background:#6c0a52;border-radius:1px;"></div>
<div class="t" style="left:371.00px;top:542px;font-size:8.28px;color:#26323d;font-family:'Liberation Sans', sans-serif;">Critical</div>
<div class="t" style="left:455.60px;top:541px;font-size:8.85px;color:#2b2b2b;font-family:'Liberation Sans', sans-serif;">9.8</div>
<div class="t" style="left:554.20px;top:541px;font-size:8.85px;color:#2b2b2b;font-family:'Liberation Sans', sans-serif;">Critical</div>
<div class="t" style="left:653.30px;top:541px;font-size:8.85px;color:#2b2b2b;font-family:'Liberation Sans', sans-serif;">1</div>
<div class="t" style="left:751.90px;top:542px;font-size:8.3px;color:#2b2b2b;font-family:'Liberation Mono', monospace;letter-spacing:-0.650px;-webkit-text-stroke:0.2px #2b2b2b;">1.3.1</div>
<div class="t" style="left:850.40px;top:542px;font-size:8.3px;color:#2b2b2b;font-family:'Liberation Mono', monospace;letter-spacing:-0.650px;-webkit-text-stroke:0.2px #2b2b2b;">1.3.2</div>
<div class="a" style="left:151px;top:585px;width:788px;height:1px;background:#e5e6e7;"></div>
<div class="t" style="left:161.60px;top:565px;font-size:8.56px;color:#32378f;font-family:'Liberation Mono', monospace;-webkit-text-stroke:0.2px #32378f;">CVE-2021-44906</div>
<div class="t" style="left:257.90px;top:564px;font-size:8.85px;color:#2b2b2b;font-family:'Liberation Sans', sans-serif;">minimist</div>
<div class="a" style="left:356.2px;top:567.4px;width:45.19999999999999px;height:13.200000000000045px;border:1px solid #dcdee1;border-radius:2.5px;background:#fbfbfc;box-sizing:border-box;"></div>
<div class="a" style="left:361px;top:571.0px;width:6px;height:6.0px;background:#6c0a52;border-radius:1px;"></div>
<div class="t" style="left:371.00px;top:565px;font-size:8.28px;color:#26323d;font-family:'Liberation Sans', sans-serif;">Critical</div>
<div class="t" style="left:455.60px;top:564px;font-size:8.85px;color:#2b2b2b;font-family:'Liberation Sans', sans-serif;">9.8</div>
<div class="t" style="left:554.20px;top:564px;font-size:8.85px;color:#2b2b2b;font-family:'Liberation Sans', sans-serif;">Critical</div>
<div class="t" style="left:653.30px;top:564px;font-size:8.85px;color:#2b2b2b;font-family:'Liberation Sans', sans-serif;">4</div>
<div class="t" style="left:751.90px;top:565px;font-size:8.3px;color:#2b2b2b;font-family:'Liberation Mono', monospace;letter-spacing:-0.650px;-webkit-text-stroke:0.2px #2b2b2b;">1.2.5</div>
<div class="t" style="left:850.40px;top:565px;font-size:8.3px;color:#2b2b2b;font-family:'Liberation Mono', monospace;letter-spacing:-0.650px;-webkit-text-stroke:0.2px #2b2b2b;">0.2.4</div>
<div class="a" style="left:151px;top:608px;width:788px;height:1px;background:#e5e6e7;"></div>
<div class="t" style="left:161.60px;top:588px;font-size:8.56px;color:#32378f;font-family:'Liberation Mono', monospace;-webkit-text-stroke:0.2px #32378f;">CVE-2021-44906</div>
<div class="t" style="left:257.90px;top:587px;font-size:8.85px;color:#2b2b2b;font-family:'Liberation Sans', sans-serif;">minimist</div>
<div class="a" style="left:356.2px;top:590.4px;width:45.19999999999999px;height:13.200000000000045px;border:1px solid #dcdee1;border-radius:2.5px;background:#fbfbfc;box-sizing:border-box;"></div>
<div class="a" style="left:361px;top:594.0px;width:6px;height:6.0px;background:#6c0a52;border-radius:1px;"></div>
<div class="t" style="left:371.00px;top:588px;font-size:8.28px;color:#26323d;font-family:'Liberation Sans', sans-serif;">Critical</div>
<div class="t" style="left:455.60px;top:587px;font-size:8.85px;color:#2b2b2b;font-family:'Liberation Sans', sans-serif;">9.8</div>
<div class="t" style="left:554.20px;top:587px;font-size:8.85px;color:#2b2b2b;font-family:'Liberation Sans', sans-serif;">Critical</div>
<div class="t" style="left:653.30px;top:587px;font-size:8.85px;color:#2b2b2b;font-family:'Liberation Sans', sans-serif;">4</div>
<div class="t" style="left:751.90px;top:588px;font-size:8.3px;color:#2b2b2b;font-family:'Liberation Mono', monospace;letter-spacing:-0.650px;-webkit-text-stroke:0.2px #2b2b2b;">0.0.8</div>
<div class="t" style="left:850.40px;top:588px;font-size:8.3px;color:#2b2b2b;font-family:'Liberation Mono', monospace;letter-spacing:-0.650px;-webkit-text-stroke:0.2px #2b2b2b;">0.2.4</div>
<div class="a" style="left:151px;top:631px;width:788px;height:1px;background:#e5e6e7;"></div>
<div class="t" style="left:161.60px;top:611px;font-size:8.56px;color:#32378f;font-family:'Liberation Mono', monospace;-webkit-text-stroke:0.2px #32378f;">CVE-2021-44906</div>
<div class="t" style="left:257.90px;top:610px;font-size:8.85px;color:#2b2b2b;font-family:'Liberation Sans', sans-serif;">minimist</div>
<div class="a" style="left:356.2px;top:613.4px;width:45.19999999999999px;height:13.200000000000045px;border:1px solid #dcdee1;border-radius:2.5px;background:#fbfbfc;box-sizing:border-box;"></div>
<div class="a" style="left:361px;top:617.0px;width:6px;height:6.0px;background:#6c0a52;border-radius:1px;"></div>
<div class="t" style="left:371.00px;top:611px;font-size:8.28px;color:#26323d;font-family:'Liberation Sans', sans-serif;">Critical</div>
<div class="t" style="left:455.60px;top:610px;font-size:8.85px;color:#2b2b2b;font-family:'Liberation Sans', sans-serif;">9.8</div>
<div class="t" style="left:554.20px;top:610px;font-size:8.85px;color:#2b2b2b;font-family:'Liberation Sans', sans-serif;">Critical</div>
<div class="t" style="left:653.30px;top:610px;font-size:8.85px;color:#2b2b2b;font-family:'Liberation Sans', sans-serif;">4</div>
<div class="t" style="left:751.90px;top:611px;font-size:8.3px;color:#2b2b2b;font-family:'Liberation Mono', monospace;letter-spacing:-0.650px;-webkit-text-stroke:0.2px #2b2b2b;">1.2.0</div>
<div class="t" style="left:850.40px;top:611px;font-size:8.3px;color:#2b2b2b;font-family:'Liberation Mono', monospace;letter-spacing:-0.650px;-webkit-text-stroke:0.2px #2b2b2b;">0.2.4</div>
<div class="a" style="left:151px;top:654px;width:788px;height:1px;background:#e5e6e7;"></div>
<div class="t" style="left:161.60px;top:634px;font-size:8.56px;color:#32378f;font-family:'Liberation Mono', monospace;-webkit-text-stroke:0.2px #32378f;">CVE-2019-17426</div>
<div class="t" style="left:257.90px;top:633px;font-size:8.85px;color:#2b2b2b;font-family:'Liberation Sans', sans-serif;">mongoose</div>
<div class="a" style="left:356.2px;top:636.4px;width:45.19999999999999px;height:13.200000000000045px;border:1px solid #dcdee1;border-radius:2.5px;background:#fbfbfc;box-sizing:border-box;"></div>
<div class="a" style="left:361px;top:640.0px;width:6px;height:6.0px;background:#6c0a52;border-radius:1px;"></div>
<div class="t" style="left:371.00px;top:634px;font-size:8.28px;color:#26323d;font-family:'Liberation Sans', sans-serif;">Critical</div>
<div class="t" style="left:455.60px;top:633px;font-size:8.85px;color:#2b2b2b;font-family:'Liberation Sans', sans-serif;">9.1</div>
<div class="t" style="left:554.20px;top:633px;font-size:8.85px;color:#2b2b2b;font-family:'Liberation Sans', sans-serif;">Critical</div>
<div class="t" style="left:653.30px;top:633px;font-size:8.85px;color:#2b2b2b;font-family:'Liberation Sans', sans-serif;">1</div>
<div class="t" style="left:751.90px;top:634px;font-size:8.3px;color:#2b2b2b;font-family:'Liberation Mono', monospace;letter-spacing:-0.650px;-webkit-text-stroke:0.2px #2b2b2b;">4.2.4</div>
<div class="t" style="left:850.40px;top:634px;font-size:8.3px;color:#2b2b2b;font-family:'Liberation Mono', monospace;letter-spacing:-0.650px;-webkit-text-stroke:0.2px #2b2b2b;">4.13.21</div>
</body></html>
